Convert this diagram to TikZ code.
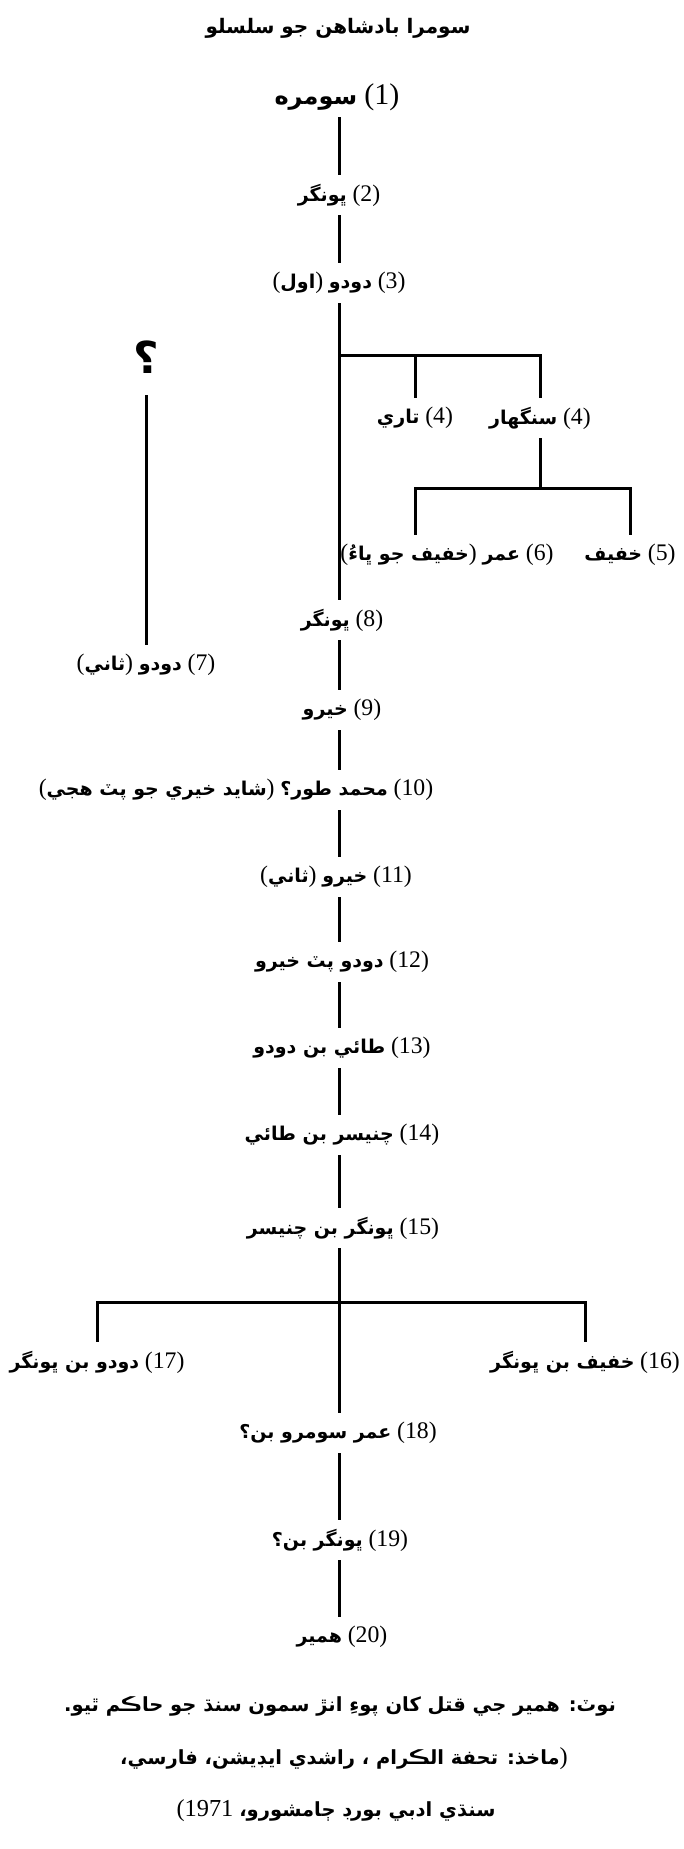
\documentclass[tikz,border=0pt]{standalone}
\usepackage{fontspec}
\TeXXeTstate=1
\newfontfamily\sdfont[Script=Arabic]{DejaVu Sans}
\newfontfamily\numfont[Scale=1.25]{Liberation Serif}
% Sindhi text, number in brackets, text in brackets
\newcommand{\sd}[1]{{\sdfont\bfseries\beginR #1\endR}}
\newcommand{\nm}[1]{{\numfont(#1)}}
\newcommand{\brk}[1]{{\numfont(}\sd{#1}{\numfont)}}
\begin{document}
\begin{tikzpicture}[x=1pt, y=-1pt, line join=miter,
  lbl/.style={inner sep=0pt, minimum height=40pt, font=\fontsize{19}{23}\selectfont},
  ttl/.style={inner sep=0pt, font=\fontsize{20}{24}\selectfont},
  qmark/.style={inner sep=0pt, minimum height=76pt, font=\fontsize{44}{48}\selectfont},
  note/.style={inner sep=0pt, font=\fontsize{19.5}{23}\selectfont},
  link/.style={line width=3pt}]
\useasboundingbox (0,0) rectangle (683,1849);
% x of the main line
\def\sx{339}
\coordinate (sp) at (\sx,0);
% Title
\node[ttl] (title) at (338,28) {\sd{سومرا بادشاهن جو سلسلو}};
% First kings
\node[lbl, font=\fontsize{24}{28}\selectfont] (n1) at (337,97) {\sd{سومره} \nm{1}};
\node[lbl] (n2) at (339,195) {\sd{ڀونگر} \nm{2}};
\node[lbl] (n3) at (339,283) {\brk{اول} \sd{دودو} \nm{3}};
% Branch of (3)
\node[lbl] (n4t) at (415,418) {\sd{تاري} \nm{4}};
\node[lbl] (n4s) at (540,418) {\sd{سنگهار} \nm{4}};
\node[lbl] (n5) at (630,555) {\sd{خفيف} \nm{5}};
\node[lbl] (n6) at (447,555) {\brk{خفيف جو ڀاءُ} \sd{عمر} \nm{6}};
% Unknown line
\node[qmark] (q) at (146,357) {\sd{؟}};
\node[lbl] (n7) at (146,665) {\brk{ثاني} \sd{دودو} \nm{7}};
% Main line
\node[lbl] (n8) at (342,620) {\sd{ڀونگر} \nm{8}};
\node[lbl] (n9) at (342,710) {\sd{خيرو} \nm{9}};
\node[lbl] (n10) at (236,790) {\brk{شايد خيري جو پٽ هجي} \sd{محمد طور؟} \nm{10}};
\node[lbl] (n11) at (336,877) {\brk{ثاني} \sd{خيرو} \nm{11}};
\node[lbl] (n12) at (342,962) {\sd{دودو پٽ خيرو} \nm{12}};
\node[lbl] (n13) at (342,1048) {\sd{طائي بن دودو} \nm{13}};
\node[lbl] (n14) at (342,1135) {\sd{چنيسر بن طائي} \nm{14}};
\node[lbl] (n15) at (343,1228) {\sd{ڀونگر بن چنيسر} \nm{15}};
% Sons of (15)
\node[lbl] (n16) at (585,1362) {\sd{خفيف بن ڀونگر} \nm{16}};
\node[lbl] (n17) at (97,1362) {\sd{دودو بن ڀونگر} \nm{17}};
\node[lbl] (n18) at (338,1433) {\sd{عمر سومرو بن؟} \nm{18}};
\node[lbl] (n19) at (340,1540) {\sd{ڀونگر بن؟} \nm{19}};
\node[lbl] (n20) at (342,1637) {\sd{همير} \nm{20}};
% Note
\node[note] (nt1) at (340,1706) {\sd{نوٽ: همير جي قتل کان پوءِ انڙ سمون سنڌ جو حاڪم ٿيو.}};
\node[note] (nt2) at (344,1759) {\sd{ماخذ: تحفة الڪرام ، راشدي ايڊيشن، فارسي،}{\numfont)}};
\node[note] (nt3) at (336,1811) {{\numfont(1971} \sd{سنڌي ادبي بورڊ ڄامشورو،}};
% Lines
\draw[link] (n1.south -| sp) -- (n2.north -| sp);
\draw[link] (n2.south -| sp) -- (n3.north -| sp);
\draw[link] (n3.south -| sp) -- (n8.north -| sp);
\coordinate (b1) at (\sx,355);
\draw[link] (b1) -| (n4s.north);
\draw[link] (n4t.north) -- (n4t.north |- b1);
\coordinate (b2) at (540,488);
\draw[link] (n4s.south) -- (b2);
\draw[link] (n5.north) |- (b2) -| (n6.north -| n4t);
\draw[link] (q.south) -- (n7.north);
\draw[link] (n8.south -| sp) -- (n9.north -| sp);
\draw[link] (n9.south -| sp) -- (n10.north -| sp);
\draw[link] (n10.south -| sp) -- (n11.north -| sp);
\draw[link] (n11.south -| sp) -- (n12.north -| sp);
\draw[link] (n12.south -| sp) -- (n13.north -| sp);
\draw[link] (n13.south -| sp) -- (n14.north -| sp);
\draw[link] (n14.south -| sp) -- (n15.north -| sp);
\draw[link] (n15.south -| sp) -- (n18.north -| sp);
\coordinate (b3) at (\sx,1302);
\draw[link] (n17.north) |- (b3) -| (n16.north);
\draw[link] (n18.south -| sp) -- (n19.north -| sp);
\draw[link] (n19.south -| sp) -- (n20.north -| sp);
\end{tikzpicture}
\end{document}
